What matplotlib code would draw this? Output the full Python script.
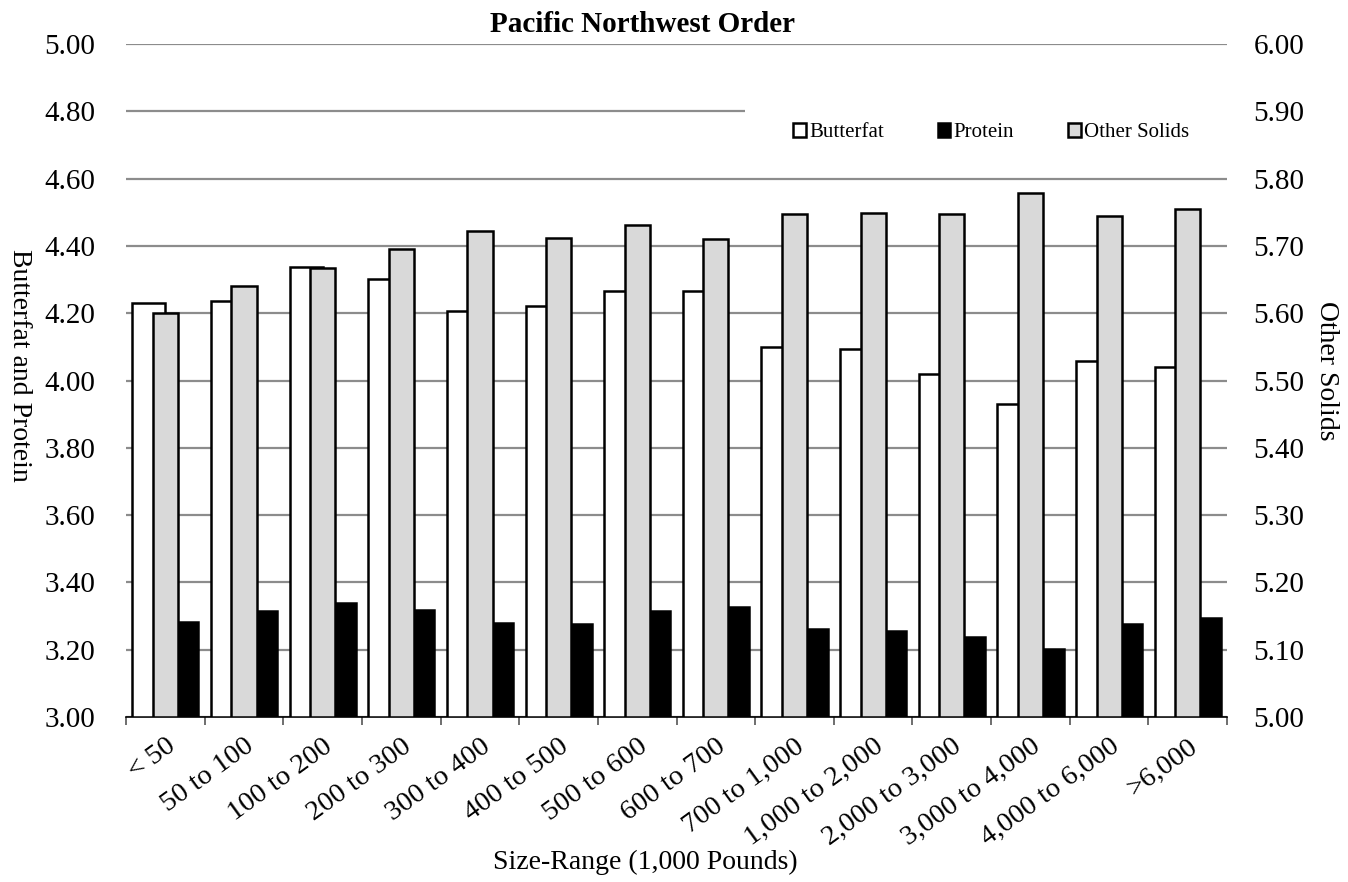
"""Pacific Northwest Order: component levels by size range."""

import matplotlib
matplotlib.use("Agg")
import matplotlib.pyplot as plt
import numpy as np

plt.rcParams["font.family"] = ["Liberation Serif", "DejaVu Serif"]

size_ranges = [
    "< 50", "50 to 100", "100 to 200", "200 to 300", "300 to 400",
    "400 to 500", "500 to 600", "600 to 700", "700 to 1,000",
    "1,000 to 2,000", "2,000 to 3,000", "3,000 to 4,000",
    "4,000 to 6,000", ">6,000",
]
butterfat = [4.23, 4.237, 4.338, 4.301, 4.208, 4.221, 4.266, 4.265,
             4.099, 4.094, 4.019, 3.929, 4.059, 4.041]
protein = [3.282, 3.314, 3.340, 3.318, 3.280, 3.276, 3.316, 3.327,
           3.263, 3.255, 3.239, 3.202, 3.278, 3.294]
other_solids = [5.600, 5.641, 5.667, 5.695, 5.722, 5.712, 5.731, 5.711,
                5.747, 5.749, 5.748, 5.778, 5.745, 5.755]

x = np.arange(len(size_ranges))

fig = plt.figure(figsize=(13.48, 8.82), dpi=100)
ax = fig.add_axes([0.0935, 0.187, 0.8168, 0.763])
ax2 = ax.twinx()

w_prim = 0.42
w_sec = 0.32
ax.bar(x - w_prim / 2, np.array(butterfat) - 3, w_prim, bottom=3,
       color="white", edgecolor="black", linewidth=1.8, label="Butterfat", zorder=3)
ax.bar(x + w_prim / 2, np.array(protein) - 3, w_prim, bottom=3,
       color="black", edgecolor="black", linewidth=1.8, label="Protein", zorder=3)
ax2.bar(x, np.array(other_solids) - 5, w_sec, bottom=5,
        color="#d9d9d9", edgecolor="black", linewidth=1.8, label="Other Solids", zorder=3)

ax.set_ylim(3, 5)
ax2.set_ylim(5, 6)
ax.set_xlim(-0.5, len(x) - 0.5)
left_ticks = np.arange(3, 5.01, 0.2)
right_ticks = np.arange(5, 6.01, 0.1)
ax.set_yticks(left_ticks)
ax.set_yticklabels([f"{v:.2f}" for v in left_ticks])
ax2.set_yticks(right_ticks)
ax2.set_yticklabels([f"{v:.2f}" for v in right_ticks])
ax.yaxis.grid(True, color="#8c8c8c", linewidth=1.6, zorder=0)
ax.set_axisbelow(True)
# the legend box hides the right part of the 4.80 gridline
ax.axhspan(4.77, 4.83, xmin=0.562, xmax=1.0, color="white", zorder=1, linewidth=0)

for a in (ax, ax2):
    for side in ("top", "left", "right"):
        a.spines[side].set_visible(False)
    a.tick_params(axis="y", length=0, labelsize=21)
ax.tick_params(axis="y", pad=22)
ax2.tick_params(axis="y", pad=19)
ax.spines["bottom"].set_linewidth(1.2)
ax2.spines["bottom"].set_visible(False)

ax.set_xticks(x)
ax.set_xticklabels(size_ranges, rotation=36, ha="right", rotation_mode="anchor")
ax.tick_params(axis="x", which="major", length=0, labelsize=20.5, pad=12)
ax.set_xticks(np.arange(-0.5, len(x)), minor=True)
ax.tick_params(axis="x", which="minor", length=6, color="#555555", width=1.2)

ax.set_title("Pacific Northwest Order", fontsize=21, fontweight="bold",
             x=0.469, pad=9)
ax.set_xlabel("Size-Range (1,000 Pounds)", fontsize=20)
ax.xaxis.set_label_coords(0.472, -0.197)
fig.text(0.0141, 0.586, "Butterfat and Protein", fontsize=20, rotation=270,
         ha="center", va="center")
fig.text(0.9837, 0.580, "Other Solids", fontsize=20, rotation=270,
         ha="center", va="center")

handles = ax.get_legend_handles_labels()[0] + ax2.get_legend_handles_labels()[0]
labels = ["Butterfat", "Protein", "Other Solids"]
leg = ax2.legend(handles, labels, loc="center left",
                 bbox_to_anchor=(0.606, 0.868), ncol=3, frameon=False,
                 fontsize=15, handlelength=0.6, handleheight=0.6,
                 handletextpad=0.15, columnspacing=2.6, borderpad=0,
                 borderaxespad=0)
leg.set_zorder(5)

fig.savefig("out.png", dpi=100)
